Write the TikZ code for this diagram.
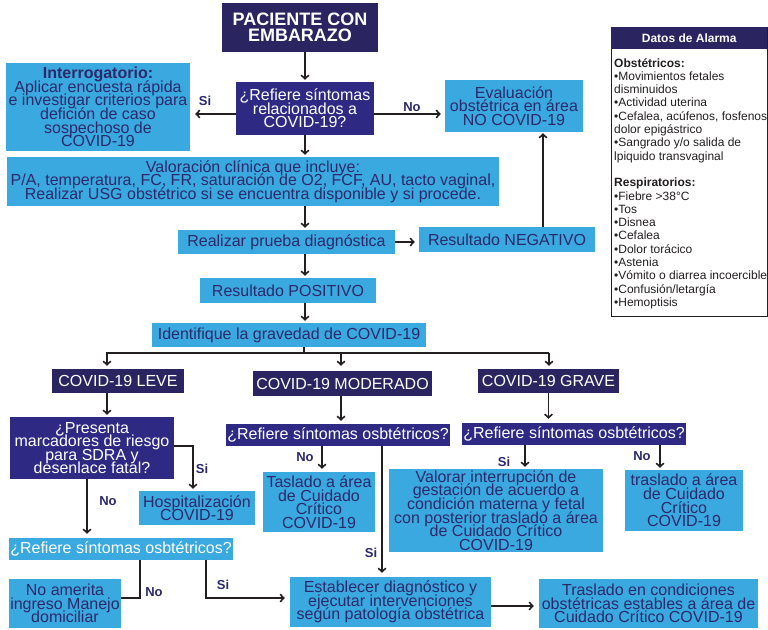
\documentclass[tikz,border=0pt]{standalone}
\usepackage{fontspec}
\setmainfont{Liberation Sans}
\usetikzlibrary{arrows.meta}
\definecolor{lblue}{RGB}{58,169,224}
\definecolor{dnavy}{RGB}{42,37,96}
\definecolor{pnavy}{RGB}{46,42,132}
\definecolor{tnavy}{RGB}{43,41,107}
\definecolor{lcol}{RGB}{35,31,32}
\newcommand\bxfont{\fontsize{16}{13.6}\selectfont\lineskiplimit=-100pt\relax}
\newcommand\pacfont{\fontsize{18}{15.5}\selectfont\bfseries\lineskiplimit=-100pt\relax}
\newcommand\lblfont{\fontsize{13}{13}\selectfont\bfseries}
\newcommand\datfont{\fontsize{12}{13.3}\selectfont\lineskiplimit=-100pt\relax}
\begin{document}
\begin{tikzpicture}[x=1pt,y=-1pt,
  bx/.style={inner sep=0pt, align=center, font=\bxfont},
  lb/.style={bx, fill=lblue, text=tnavy},
  nv/.style={bx, fill=dnavy, text=white},
  pq/.style={bx, fill=pnavy, text=white},
  wh/.style 2 args={minimum width=#1, minimum height=#2},
  conn/.style={line width=1.6pt, draw=lcol, line join=miter},
  arr/.style={conn, -{Straight Barb[length=3.5pt,width=7.5pt]}},
  lbl/.style={font=\lblfont, text=tnavy, inner sep=0pt}]
\useasboundingbox (0,0) rectangle (768,629);
\fill[white] (0,0) rectangle (768,629);

% main column
\node[nv, font=\pacfont, wh={156}{49}] (pac) at (300,27.5) {PACIENTE CON\\EMBARAZO};
\node[pq, wh={138}{53}] (q1) at (305,108.5) {¿Refiere síntomas\\relacionados a\\COVID-19?};
\node[lb, wh={184}{88}] (interr) at (98,107) {\textbf{Interrogatorio:}\\Aplicar encuesta rápida\\e investigar criterios para\\defición de caso\\sospechoso de\\COVID-19};
\node[lb, wh={138}{52}] (eval) at (514,106) {Evaluación\\obstétrica en área\\NO COVID-19};
\node[lb, wh={492}{49}] (val) at (253,181.5) {Valoración clínica que incluye:\\P/A, temperatura, FC, FR, saturación de O2, FCF, AU, tacto vaginal,\\Realizar USG obstétrico si se encuentra disponible y si procede.};
\node[lb, wh={217}{24}] (real) at (286.5,242) {Realizar prueba diagnóstica};
\node[lb, wh={176}{25}] (neg) at (507,239.5) {Resultado NEGATIVO};
\node[lb, wh={176}{25}] (pos) at (288,290.5) {Resultado POSITIVO};
\node[lb, wh={274}{24}] (ident) at (289,335) {Identifique la gravedad de COVID-19};

% severity
\node[nv, wh={132}{24}] (leve) at (118,381) {COVID-19 LEVE};
\node[nv, wh={179}{25}] (mod) at (342.5,383.5) {COVID-19 MODERADO};
\node[nv, wh={141}{24}] (grave) at (548.5,381) {COVID-19 GRAVE};

\node[pq, wh={164}{62}] (pres) at (92,448) {¿Presenta\\marcadores de riesgo\\para SDRA y\\desenlace fatal?};
\node[lb, wh={116}{34}] (hosp) at (197,508) {Hospitalización\\COVID-19};
\node[pq, wh={224}{22}] (qmod) at (338,435) {¿Refiere síntomas osbtétricos?};
\node[pq, wh={224}{22}] (qgrave) at (574,434) {¿Refiere síntomas osbtétricos?};
\node[lb, wh={112}{60}] (tasl) at (319,502) {Taslado a área\\de Cuidado\\Crítico\\COVID-19};
\node[lb, wh={214}{83}] (valorar) at (496,510.5) {Valorar interrupción de\\gestación de acuerdo a\\condición materna y fetal\\con posterior traslado a área\\de Cuidado Crítico\\COVID-19};
\node[lb, wh={118}{61}] (traslg) at (684,500.5) {traslado a área\\de Cuidado\\Crítico\\COVID-19};
\node[lb, text=white, wh={224}{22}] (qleve) at (121,549) {¿Refiere síntomas osbtétricos?};
\node[lb, wh={112}{49}] (noam) at (65,603.5) {No amerita\\ingreso Manejo\\domiciliar};
\node[lb, wh={201}{50}] (establ) at (390.5,602) {Establecer diagnóstico y\\ejecutar intervenciones\\según patología obstétrica};
\node[lb, wh={219}{49}] (final) at (648.5,603.5) {Traslado en condiciones\\obstétricas estables a área de\\Cuidado Crítico COVID-19};

% Datos de alarma
\node[draw=lcol, line width=1.2pt, inner sep=0pt, wh={156}{289}, anchor=north west] (datos) at (611,27) {};
\node[fill=dnavy, text=white, inner sep=0pt, wh={156}{22}, anchor=north west, font=\fontsize{12}{13}\selectfont\bfseries] (datosh) at (611,27) {Datos de Alarma};
\node[inner sep=0pt, anchor=north west, align=left, font=\datfont, text=lcol] (datosb) at (614,58) {\textbf{Obstétricos:}\\•Movimientos fetales\\disminuidos\\•Actividad uterina\\•Cefalea, acúfenos, fosfenos\\dolor epigástrico\\•Sangrado y/o salida de\\lpiquido transvaginal\\[13.3pt]\textbf{Respiratorios:}\\•Fiebre >38°C\\•Tos\\•Disnea\\•Cefalea\\•Dolor torácico\\•Astenia\\•Vómito o diarrea incoercible\\•Confusión/letargía\\•Hemoptisis};

% connectors
\draw[arr, shorten >=2pt] (pac.south -| q1.north) -- (q1.north);
\draw[arr, shorten >=5pt] ([yshift=-5.5pt]q1.west) -- ([yshift=-5.5pt]q1.west -| interr.east);
\draw[arr, shorten >=4pt] ([yshift=-5.5pt]q1.east) -- ([yshift=-5.5pt]q1.east -| eval.west);
\draw[arr, shorten >=2pt] (q1.south) -- (q1.south |- val.north);
\draw[arr, shorten >=2pt] (val.south -| q1.south) -- (real.north -| q1.south);
\draw[arr, shorten >=4pt] (real.east) -- (real.east -| neg.west);
\draw[arr, shorten >=1pt] ([xshift=29pt]eval.south |- neg.north) -- ([xshift=29pt]eval.south);
\draw[arr, shorten >=2pt] (real.south -| q1.south) -- (pos.north -| q1.south);
\draw[arr, shorten >=2pt] (pos.south -| q1.south) -- (ident.north -| q1.south);

\coordinate (split) at (304,353);
\coordinate (hl) at (107,353);
\coordinate (hr) at (549,353);
\draw[conn] (ident.south -| split) -- (split);
\draw[arr, shorten >=3pt] (hr) -- (hl) -- ([xshift=-11pt]leve.north);
\draw[arr, shorten >=3pt] (hr) -- (hr |- grave.north);
\draw[arr, shorten >=5pt] (split -| 341,0) -- (mod.north -| 341,0);

\draw[arr, shorten >=2pt] ([xshift=-11pt]leve.south) -- ([xshift=-11pt]leve.south |- pres.north);
\draw[arr, shorten >=2pt] ([yshift=2pt]pres.east) -| ([xshift=-4pt]hosp.north);
\draw[arr, shorten >=4pt] ([xshift=-5pt]pres.south) -- ([xshift=-5pt]pres.south |- qleve.north);

\draw[arr, shorten >=3pt] (mod.south -| 341,0) -- (qmod.north -| 341,0);
\draw[arr, shorten >=3pt] ([xshift=3pt]tasl.north |- qmod.south) -- ([xshift=3pt]tasl.north);
\draw[arr, shorten >=4pt] ([xshift=-8.5pt]establ.north |- qmod.south) -- ([xshift=-8.5pt]establ.north);

\draw[arr, shorten >=4pt] (grave.south) -- (grave.south |- qgrave.north);
\draw[arr, shorten >=2pt] ([xshift=29pt]valorar.north |- qgrave.south) -- ([xshift=29pt]valorar.north);
\draw[arr, shorten >=2pt] ([xshift=-24pt]traslg.north |- qgrave.south) -- ([xshift=-24pt]traslg.north);

\draw[conn] ([xshift=19pt]qleve.south) |- ([yshift=5.5pt]noam.east);
\draw[arr, shorten >=5pt] ([xshift=85pt]qleve.south) |- ([yshift=4pt]establ.west);
\draw[arr, shorten >=5pt] ([yshift=-4pt]establ.east) -- ([yshift=-4pt]establ.east -| final.west);

% labels
\node[lbl] (lsi1) at (205,101) {Si};
\node[lbl] (lno1) at (412,107) {No};
\node[lbl] (lsi2) at (202,469) {Si};
\node[lbl] (lno2) at (108,501) {No};
\node[lbl] (lno3) at (305,457) {No};
\node[lbl] (lsi3) at (371,553) {Si};
\node[lbl] (lsi4) at (504,462) {Si};
\node[lbl] (lno4) at (642,456) {No};
\node[lbl] (lno5) at (154,592) {No};
\node[lbl] (lsi5) at (223,585) {Si};
\end{tikzpicture}
\end{document}
